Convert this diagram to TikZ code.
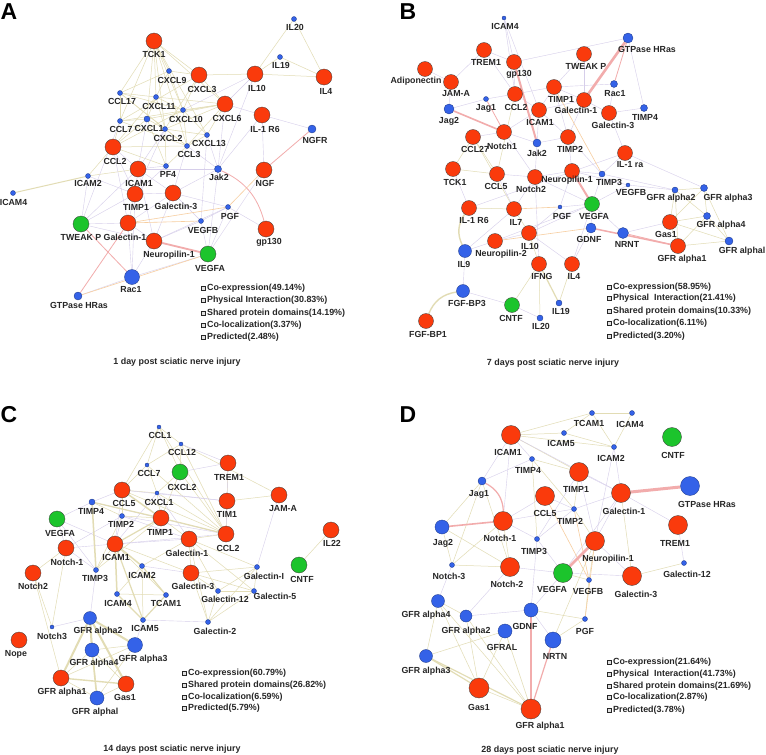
\documentclass[tikz,border=0pt]{standalone}
\usepackage{fontspec}
\setmainfont{Liberation Sans}
\usepackage{tikz}
\usetikzlibrary{backgrounds}

\definecolor{genred}{RGB}{250,58,12}
\definecolor{genblue}{RGB}{52,98,232}
\definecolor{gengreen}{RGB}{28,196,44}
\definecolor{coexpcol}{RGB}{214,206,234}
\definecolor{physcol}{RGB}{242,172,172}
\definecolor{domcol}{RGB}{226,220,180}
\definecolor{predcol}{RGB}{247,206,160}

\newcommand{\legsq}{{\setlength{\fboxsep}{0pt}\setlength{\fboxrule}{1.1pt}\fbox{\textcolor{black!12}{\rule{2.9pt}{2.9pt}}}}\hspace{0.8pt}}

\begin{document}
\begin{tikzpicture}[x=1pt, y=-1pt,
	gene/.style={circle, inner sep=0pt, draw=black!75, line width=0.35pt},
	redgene/.style={gene, fill=genred},
	bluegene/.style={gene, fill=genblue, draw=genblue!60!black},
	greengene/.style={gene, fill=gengreen},
	genelab/.style={font=\fontsize{8.8}{9}\selectfont\bfseries, text=black!85, inner sep=0pt},
	coexp/.style={coexpcol, line width=0.4pt},
	physint/.style={physcol, line width=0.8pt},
	shdom/.style={domcol, line width=0.5pt},
	predict/.style={predcol, line width=0.6pt},
	legitem/.style={font=\fontsize{8.9}{9}\selectfont\bfseries, text=black!85, anchor=west, inner sep=0pt},
	caption/.style={font=\fontsize{8.9}{9}\selectfont\bfseries, text=black!85, inner sep=0pt},
	panel/.style={font=\fontsize{23}{23}\selectfont\bfseries, inner sep=0pt}]
	
	\useasboundingbox (0,0) rectangle (766,755);
	
	% Panelbuchstaben
	\node[panel] (pA) at (9,12) {A};
	\node[panel] (pB) at (408,12) {B};
	\node[panel] (pC) at (9,415) {C};
	\node[panel] (pD) at (408,415) {D};
	
	% Knoten: Name/x/y/Typ/Groesse/Text/Text-x/Text-y
	\foreach \id/\x/\y/\k/\s/\t/\lx/\ly in {
		aTCK/154/41/redgene/16/TCK1/154/54,
		aIL20/294/19/bluegene/5/IL20/295/27,
		aIL19/280/57/bluegene/5/IL19/281/65,
		aIL10/255/74/redgene/16/IL10/257/88,
		aIL4/324/77/redgene/16/IL4/326/91,
		aCXCL9/169/71/bluegene/5/CXCL9/172/80,
		aCXCL3/199/75/redgene/16/CXCL3/202/89,
		aCCL17/120/93/bluegene/5/CCL17/122/101,
		aCXCL11/156/97/bluegene/5/CXCL11/159/106,
		aCXCL6/225/104/redgene/16/CXCL6/227/118,
		aIL1R6/262/115/redgene/16/IL-1 R6/265/129,
		aCXCL10/183/110/bluegene/5/CXCL10/186/119,
		aCCL7/120/121/bluegene/5/CCL7/121/129,
		aCXCL1/147/119/bluegene/6/CXCL1/149/128,
		aCXCL2/165/129/bluegene/5/CXCL2/168/138,
		aNGFR/312/129/bluegene/8/NGFR/315/140,
		aCXCL13/207/135/bluegene/5/CXCL13/209/143,
		aCCL2/113/147/redgene/16/CCL2/115/161,
		aCCL3/187/146/bluegene/5/CCL3/189/154,
		aICAM1/138/169/redgene/16/ICAM1/139/183,
		aPF4/166/166/bluegene/5/PF4/168/174,
		aJak2/218/169/bluegene/7/Jak2/219/177,
		aNGF/264/170/redgene/16/NGF/265/183,
		aICAM2/88/176/bluegene/5/ICAM2/88/183,
		aICAM4/13/193/bluegene/5/ICAM4/13.5/202,
		aTIMP1/135/194/redgene/16/TIMP1/136/207,
		aGal3/173/193/redgene/16/Galectin-3/176/206,
		aPGF/228/207/bluegene/5/PGF/230/216,
		aVEGFB/201/221/bluegene/5/VEGFB/203/230,
		aTWEAK/81/224/greengene/16/TWEAK P/81/237,
		aGal1/128/223/redgene/16/Galectin-1/125/237,
		aGp130/266/229/redgene/16/gp130/269/242,
		aNrp1/154/241/redgene/16/Neuropilin-1/169/255,
		aVEGFA/208/254/greengene/16/VEGFA/210/268,
		aRac1/132/277/bluegene/15/Rac1/131/290,
		aHRas/78/296/bluegene/8/GTPase HRas/79/305,
		bICAM4/504/18/bluegene/4/ICAM4/505/26,
		bHRas/628/38/bluegene/10/GTPase HRas/647/49,
		bTREM1/484/50/redgene/15/TREM1/486/62,
		bTWEAK/584/54/redgene/15/TWEAK P/586/66,
		bGp130/514/62/redgene/15/gp130/519/74,
		bAdipo/425/69/redgene/15/Adiponectin/416/81,
		bJAMA/451/82/redgene/15/JAM-A/456/94,
		bRac1/614/84/bluegene/7/Rac1/615/94,
		bTIMP1/554/87/redgene/15/TIMP1/561/99,
		bCCL2/515/94/redgene/15/CCL2/516/107,
		bJag1/486/99/bluegene/5/Jag1/486/108,
		bGal1/584/100/redgene/15/Galectin-1/576/110,
		bJag2/449/109/bluegene/10/Jag2/449/121,
		bICAM1/539/110/redgene/15/ICAM1/540/122,
		bGal3/609/113/redgene/15/Galectin-3/613/125,
		bTIMP4/644/108/bluegene/7/TIMP4/645/117,
		bNotch1/504/132/redgene/15/Notch1/502/146,
		bCCL27/473/137/redgene/15/CCL27/475/149,
		bJak2/537/143/bluegene/8/Jak2/537/153,
		bTIMP2/568/137/redgene/15/TIMP2/570/149,
		bIL1ra/625/153/redgene/15/IL-1 ra/630/165,
		bTCK1/453/169/redgene/15/TCK1/455/182,
		bCCL5/497/174/redgene/15/CCL5/496/186,
		bNotch2/535/177/redgene/15/Notch2/531/189,
		bNrp1/572/171/redgene/15/Neuropilin-1/567/180,
		bTIMP3/602/174/bluegene/6/TIMP3/609/182,
		bVEGFB/628/185/bluegene/4/VEGFB/631/192,
		bGFRa2/675/190/bluegene/6/GFR alpha2/671/198,
		bGFRa3/704/188/bluegene/7/GFR alpha3/728/198,
		bIL1R6/469/208/redgene/15/IL-1 R6/474/220,
		bIL7/514/209/redgene/15/IL7/516/222,
		bPGF/560/207/bluegene/4/PGF/562/216,
		bVEGFA/592/204/greengene/15/VEGFA/594/216,
		bGFRa4/707/216/bluegene/7/GFR alpha4/721/225,
		bGas1/670/222/redgene/15/Gas1/666/234,
		bGDNF/591/228/bluegene/10/GDNF/589/239,
		bNRNT/623/233/bluegene/11/NRNT/627/244,
		bIL10/529/233/redgene/15/IL10/530/246,
		bNrp2/495/241/redgene/15/Neuropilin-2/501/254,
		bIL9/465/251/bluegene/13/IL9/464/264,
		bGFRa1/678/246/redgene/15/GFR alpha1/682/259,
		bGFRal/729/241/bluegene/8/GFR alphal/742/251,
		bIFNG/539/264/redgene/15/IFNG/542/276,
		bIL4/572/264/redgene/15/IL4/574/276,
		bFGFBP3/463/291/bluegene/13/FGF-BP3/467/303,
		bCNTF/512/305/greengene/15/CNTF/511/318,
		bIL19/559/303/bluegene/6/IL19/561/311,
		bIL20/540/318/bluegene/6/IL20/541/326,
		bFGFBP1/426/321/redgene/15/FGF-BP1/428/334,
		cCCL1/159/427/bluegene/4/CCL1/160/435,
		cCCL12/181/444/bluegene/4/CCL12/182/452,
		cTREM1/228/463/redgene/16/TREM1/229/477,
		cCCL7/147/465/bluegene/4/CCL7/149/473,
		cCXCL2/180/472/greengene/16/CXCL2/182/487,
		cCCL5/122/490/redgene/16/CCL5/124/503,
		cCXCL1/157/493/bluegene/4/CXCL1/159/502,
		cTIM1/227/501/redgene/16/TIM1/227/514,
		cJAMA/279/495/redgene/16/JAM-A/283/509,
		cTIMP4/92/502/bluegene/6/TIMP4/91/511,
		cVEGFA/57/519/greengene/16/VEGFA/60/533,
		cTIMP2/122/516/bluegene/5/TIMP2/121/524,
		cTIMP1/161/518/redgene/16/TIMP1/160/532,
		cCCL2/226/534/redgene/16/CCL2/228/548,
		cIL22/331/530/redgene/16/IL22/332/543,
		cGal1/189/539/redgene/16/Galectin-1/187/553,
		cNotch1/66/548/redgene/16/Notch-1/67/562,
		cICAM1/115/544/redgene/16/ICAM1/116/557,
		cNotch2/33/573/redgene/16/Notch2/33/586,
		cTIMP3/96/570/bluegene/5/TIMP3/95/578,
		cICAM2/142/566/bluegene/5/ICAM2/142/575,
		cGal3/191/573/redgene/16/Galectin-3/193/586,
		cGalI/257/567/bluegene/5/Galectin-I/264/576,
		cCNTF/299/565/greengene/16/CNTF/302/579,
		cICAM4/117/594/bluegene/5/ICAM4/118/603,
		cTCAM1/166/595/bluegene/5/TCAM1/166/603,
		cGal12/218/591/bluegene/5/Galectin-12/225/599,
		cGal5/254/591/bluegene/5/Galectin-5/275/596,
		cGFRa2/90/618/bluegene/13/GFR alpha2/98/631,
		cICAM5/143/620/bluegene/5/ICAM5/145/628,
		cGal2/208/622/bluegene/5/Galectin-2/215/631,
		cNotch3/52/627/bluegene/4/Notch3/52/636,
		cNope/19/640/redgene/16/Nope/16/654,
		cGFRa4/92/650/bluegene/14/GFR alpha4/94/663,
		cGFRa3/135/645/bluegene/15/GFR alpha3/143/659,
		cGFRa1/61/678/redgene/16/GFR alpha1/62/692,
		cGas1/126/684/redgene/16/Gas1/125/697,
		cGFRal/97/698/bluegene/14/GFR alphal/95/712,
		dTCAM1/592/413/bluegene/5/TCAM1/589/423,
		dICAM4/632/413/bluegene/5/ICAM4/630/424,
		dICAM1/511/435/redgene/19/ICAM1/508/452,
		dICAM5/564/433/bluegene/5/ICAM5/561/443,
		dCNTF/672/437/greengene/19/CNTF/673/455,
		dICAM2/614/447/bluegene/5/ICAM2/611/458,
		dTIMP4/532/459/bluegene/5/TIMP4/528/470,
		dTIMP1/579/472/redgene/19/TIMP1/576/489,
		dJag1/482/481/bluegene/8/Jag1/479/494,
		dHRas/690/486/bluegene/19/GTPase HRas/707/504,
		dGal1/621/493/redgene/19/Galectin-1/624/511,
		dCCL5/545/496/redgene/19/CCL5/545/513,
		dTIMP2/574/509/bluegene/5/TIMP2/570/521,
		dJag2/442/527/bluegene/14/Jag2/443/543,
		dNotch1/503/521/redgene/19/Notch-1/500/538,
		dTREM1/678/525/redgene/19/TREM1/675/543,
		dTIMP3/537/539/bluegene/5/TIMP3/534/551,
		dNrp1/595/541/redgene/19/Neuropilin-1/608/559,
		dNotch3/452/565/bluegene/5/Notch-3/449/576,
		dNotch2/510/567/redgene/19/Notch-2/507/584,
		dVEGFA/563/573/greengene/19/VEGFA/552/589,
		dVEGFB/589/580/bluegene/5/VEGFB/588/591,
		dGal3/632/576/redgene/19/Galectin-3/636/594,
		dGal12/684/563/bluegene/5/Galectin-12/687/574,
		dGFRa4/438/601/bluegene/13/GFR alpha4/426/615,
		dGFRa2/466/616/bluegene/12/GFR alpha2/466/631,
		dGDNF/531/610/bluegene/14/GDNF/525/626,
		dPGF/585/619/bluegene/5/PGF/585/631,
		dGFRAL/505/631/bluegene/14/GFRAL/502/647,
		dNRTN/553/640/bluegene/16/NRTN/555/656,
		dGFRa3/426/656/bluegene/13/GFR alpha3/426/671,
		dGas1/479/688/redgene/20/Gas1/479/707,
		dGFRa1/531/709/redgene/20/GFR alpha1/540/726
	}{
		\node[\k, minimum size=\s pt] (\id) at (\x,\y) {};
		\node[genelab] (\id-t) at (\lx,\ly) {\t};
	}
	
	% Kanten (hinter den Knoten)
	\begin{scope}[on background layer]
		\fill[white] (0,0) rectangle (766,755);
		
		% Shared protein domains
		\foreach \u/\v in {aIL20/aIL10, aIL20/aIL4, aIL19/aIL10, aIL19/aIL4, aIL10/aIL4, aTCK/aCCL17, aTCK/aCXCL11, aTCK/aCXCL10, aTCK/aCXCL1, aTCK/aCXCL2, aTCK/aCCL7, aTCK/aCXCL3, aTCK/aCXCL9, aTCK/aCXCL6, aTCK/aCCL3, aTCK/aCXCL13, aCXCL9/aCXCL11, aCXCL9/aCXCL10, aCXCL9/aCXCL3, aCXCL9/aCCL17, aCXCL3/aCXCL6, aCXCL3/aCXCL10, aCXCL3/aCXCL2, aCXCL3/aCCL7, aCXCL3/aIL10, aCCL17/aCCL7, aCCL17/aCXCL11, aCCL17/aCXCL2, aCCL17/aCCL3, aCCL17/aCXCL10, aCXCL11/aCXCL10, aCXCL11/aCXCL1, aCXCL11/aCXCL2, aCXCL11/aCCL2, aCXCL11/aCXCL6, aCXCL10/aCXCL6, aCXCL10/aCXCL13, aCXCL10/aCCL3, aCXCL10/aCCL2, aCCL7/aCXCL1, aCCL7/aCCL2, aCCL7/aCCL3, aCCL7/aCXCL6, aCXCL1/aCXCL2, aCXCL1/aCCL2, aCXCL1/aCXCL6, aCXCL2/aCCL3, aCXCL2/aCXCL13, aCXCL2/aCXCL6, aCXCL2/aPF4, aCXCL6/aCXCL13, aCXCL6/aCCL3, aCXCL13/aCCL3, aCCL2/aCCL3, aCCL2/aPF4, aCCL3/aPF4, aCCL2/aICAM2, aICAM2/aICAM1, aPF4/aCXCL1,
			bGFRa2/bGFRa3, bGFRa2/bGas1, bGFRa2/bGFRa1, bGFRa2/bGFRa4, bGFRa3/bGFRa4, bGFRa3/bGFRal, bGFRa3/bGas1, bGFRa4/bGas1, bGFRa4/bGFRa1, bGFRa4/bGFRal, bGas1/bGFRa1, bGas1/bGFRal, bGFRa1/bGFRal, bIFNG/bIL20, bIL4/bIL19, bIFNG/bCNTF, bIL10/bIFNG, bIL7/bIL10, bCCL5/bCCL27, bCCL2/bCCL5, bTCK1/bCCL5, bTCK1/bCCL27, bCCL27/bIL7, bIL7/bIL1R6,
			cCCL1/cCCL12, cCCL1/cCCL7, cCCL1/cCXCL2, cCCL1/cCCL5, cCCL1/cCCL2, cCCL12/cCCL7, cCCL12/cCXCL2, cCCL12/cJAMA, cCCL12/cCCL2, cCCL7/cCCL5, cCCL7/cCXCL1, cCCL7/cCCL2, cCXCL2/cCCL2, cCXCL2/cCXCL1, cCXCL2/cTIMP1, cCCL5/cCCL2, cCCL5/cTIMP2, cCCL5/cCXCL1, cCXCL1/cCCL2, cCXCL1/cTIMP1, cTIMP4/cTIMP2, cTIMP2/cTIMP1, cTIMP2/cTIMP3, cTIMP1/cTIMP3, cTIMP1/cGal1, cTREM1/cTIM1, cTIM1/cJAMA, cTIM1/cCCL2, cIL22/cCNTF, cGal1/cGal3, cGal1/cGal12, cGal1/cGal5, cGal1/cGalI, cGal1/cGal2, cGal1/cCCL2, cGal3/cGal12, cGal3/cGal5, cGal3/cGal2, cGal3/cGalI, cGal12/cGal2, cGal5/cGal2, cGalI/cGal12, cGalI/cGal2, cGalI/cGal5, cGal12/cGal5, cICAM1/cTCAM1, cICAM2/cICAM4, cICAM2/cICAM5, cICAM4/cTCAM1, cICAM1/cGal3, cNotch1/cNotch2, cNotch1/cNotch3, cNotch2/cNotch3, cNotch2/cGFRa1, cGFRa2/cGFRal, cGFRa4/cGFRa3, cGFRa4/cGFRa1, cGFRa4/cGas1, cGFRa3/cGFRa1, cGFRa3/cGFRal, cGFRa1/cGFRal, cGas1/cGFRal, cTIMP3/cICAM1, cGal1/cICAM2,
			dTCAM1/dICAM4, dICAM1/dTCAM1, dICAM1/dICAM5, dICAM1/dICAM2, dICAM5/dICAM2, dTCAM1/dICAM2, dICAM4/dICAM2, dTCAM1/dICAM5, dICAM1/dTIMP1, dTIMP4/dTIMP1, dTIMP4/dTIMP2, dTIMP1/dTIMP2, dTIMP4/dTIMP3, dGFRa4/dGFRa2, dGFRa4/dGFRa3, dGFRa2/dGas1, dGFRa2/dGFRa1, dGFRAL/dGFRa1, dGFRAL/dGas1, dGFRa4/dGFRa1, dGas1/dGFRa1, dGFRa3/dGFRAL, dGFRa4/dGas1, dJag2/dNotch3, dJag2/dJag1, dJag2/dNotch2, dJag1/dNotch2, dJag1/dNotch3, dNotch1/dNotch2, dNotch1/dNotch3, dNotch3/dNotch2, dGal3/dGal12, dGal1/dGal3, dNrp1/dVEGFB, dVEGFA/dVEGFB, dVEGFB/dPGF, dGDNF/dPGF, dNRTN/dPGF, dNRTN/dNrp1, dTIMP2/dNrp1}
		\draw[shdom] (\u) -- (\v);
		
		% Co-expression
		\foreach \u/\v in {aIL1R6/aNGFR, aIL1R6/aNGF, aCCL2/aTIMP1, aCCL2/aGal1, aCCL2/aICAM1, aICAM1/aTIMP1, aICAM1/aGal3, aICAM1/aNrp1, aICAM1/aTWEAK, aICAM1/aJak2, aICAM2/aTWEAK, aICAM2/aTIMP1, aTWEAK/aTIMP1, aTWEAK/aGal1, aTWEAK/aNrp1, aTIMP1/aGal3, aTIMP1/aGal1, aTIMP1/aRac1, aGal3/aGal1, aGal3/aPGF, aGal3/aNrp1, aGal3/aVEGFB, aGal3/aJak2, aGal1/aNrp1, aGal1/aRac1, aNrp1/aRac1, aNrp1/aVEGFB, aNrp1/aPGF, aRac1/aVEGFA, aVEGFB/aVEGFA, aPGF/aVEGFA, aPGF/aVEGFB, aPGF/aGp130, aJak2/aVEGFA, aJak2/aCXCL13, aJak2/aCCL3, aJak2/aIL10, aIL10/aCXCL6, aIL10/aCXCL10, aNGF/aVEGFA, aCXCL1/aICAM1, aCXCL2/aICAM1, aCXCL2/aTIMP1, aCCL3/aGal3, aPF4/aICAM1, aPF4/aTIMP1, aCCL7/aTWEAK, aCXCL13/aVEGFB, aCXCL6/aJak2, aIL1R6/aJak2, aCXCL6/aIL1R6, aHRas/aRac1,
			bICAM4/bCCL2, bICAM4/bICAM1, bHRas/bGp130, bHRas/bTIMP4, bTREM1/bJAMA, bAdipo/bJAMA, bGp130/bCCL2, bTREM1/bCCL2, bJAMA/bJag2, bJag2/bJag1, bJag1/bCCL2, bCCL2/bICAM1, bCCL2/bTIMP1, bTIMP1/bGal1, bTIMP1/bICAM1, bTIMP1/bTIMP2, bGal1/bGal3, bGal1/bICAM1, bGal1/bTIMP2, bGal3/bTIMP4, bGal3/bIL1ra, bRac1/bTIMP1, bRac1/bGal3, bTWEAK/bTIMP1, bTWEAK/bGal1, bICAM1/bJak2, bICAM1/bNotch1, bICAM1/bTIMP2, bNotch1/bNotch2, bNotch1/bCCL27, bNotch1/bJak2, bJak2/bNotch2, bJak2/bTIMP2, bTIMP2/bNrp1, bTIMP2/bTIMP3, bIL1ra/bTIMP3, bIL1ra/bIL1R6, bIL1ra/bGFRa3, bNrp1/bTIMP3, bNrp1/bVEGFB, bNrp1/bPGF, bNrp1/bNotch2, bNotch2/bVEGFA, bNotch2/bIL7, bCCL5/bIL7, bCCL5/bNotch2, bTIMP3/bVEGFA, bVEGFB/bVEGFA, bPGF/bVEGFA, bVEGFA/bGDNF, bVEGFA/bNRNT, bVEGFA/bIL10, bVEGFA/bNrp2, bPGF/bIL10, bGDNF/bIL4, bNRNT/bGas1, bIL7/bIL9, bNrp2/bIL9, bNrp2/bIL10, bIL9/bFGFBP3, bIL10/bIL4, bIL4/bVEGFA, bCNTF/bIL20, bFGFBP3/bCNTF, bTCK1/bIL1R6, bNotch2/bIFNG, bVEGFB/bGFRa2, bTIMP3/bGFRa2, bTREM1/bGp130, bICAM4/bGp130,
			cVEGFA/cTIMP4, cVEGFA/cTIMP3, cVEGFA/cNotch1, cVEGFA/cICAM1, cNotch1/cTIMP3, cNotch1/cICAM1, cNotch1/cTIMP2, cTIMP2/cICAM1, cTIMP2/cCCL2, cCCL5/cICAM1, cCXCL1/cICAM1, cCXCL1/cGal1, cCCL5/cTIM1, cTIMP4/cCCL2, cICAM1/cGal1, cICAM1/cCCL2, cTIMP3/cGFRa2, cNotch3/cGFRa2, cICAM5/cGal2, cJAMA/cGalI, cTREM1/cCXCL2, cTREM1/cCCL2, cCCL12/cTREM1, cTIMP2/cGal1, cICAM2/cGal3, cGFRa3/cICAM5, cCCL5/cTIMP4, cCXCL1/cTIM1,
			dICAM1/dTIMP4, dICAM1/dJag1, dICAM1/dNotch1, dICAM1/dGal1, dICAM2/dGal1, dICAM2/dNrp1, dTIMP1/dGal1, dTIMP1/dTIMP3, dTIMP1/dNrp1, dTIMP2/dGal1, dTIMP2/dNotch1, dTIMP2/dTIMP3, dCCL5/dTIMP2, dCCL5/dNotch1, dNotch1/dTIMP3, dTIMP3/dVEGFA, dTIMP3/dGDNF, dNotch2/dVEGFA, dNotch2/dGFRa2, dNotch3/dGFRa4, dNrp1/dGal3, dGal1/dNrp1, dGal1/dVEGFA, dGal1/dTREM1, dTREM1/dGal12, dVEGFA/dGDNF, dVEGFA/dGal3, dGDNF/dGFRa2, dGDNF/dNRTN, dJag1/dTIMP4}
		\draw[coexp] (\u) -- (\v);
		
		% Predicted
		\foreach \u/\v in {aGal1/aPGF, aHRas/aVEGFA, aPGF/aNGF, aGal1/aVEGFB, bPGF/bIL7, bNrp2/bGDNF, bTIMP1/bTIMP3, dNrp1/dPGF, dCCL5/dVEGFB, dTIMP2/dVEGFB}
		\draw[predict] (\u) -- (\v);
		
		% Physical interaction
		\foreach \u/\v in {aNGFR/aNGF, aTWEAK/aRac1, aGal1/aHRas, bJag1/bNotch1, bHRas/bRac1, bNRNT/bGFRa1}
		\draw[physint] (\u) -- (\v);
		
		% dicke Kanten: von/nach/Breite/Stil
		\foreach \u/\v/\w/\st in {aNrp1/aVEGFA/1.8/physint, aICAM2/aICAM4/1/shdom, bHRas/bGal1/2.6/physint, bGp130/bJak2/2/physint, bJag2/bNotch1/1.6/physint, bNrp1/bVEGFA/2/physint, bGDNF/bGFRa1/1.5/physint, bIFNG/bIL19/1.2/shdom, cCCL5/cTIMP1/1.5/shdom, cTIMP4/cTIMP3/1.5/shdom, cTIMP4/cTIMP1/1.2/shdom, cTIMP1/cCCL2/1.2/shdom, cICAM1/cICAM2/1.5/shdom, cICAM1/cICAM4/1.5/shdom, cICAM1/cICAM5/1.2/shdom, cICAM2/cTCAM1/1.2/shdom, cICAM4/cICAM5/1.2/shdom, cTCAM1/cICAM5/1.2/shdom, cICAM1/cTIMP1/1.2/shdom, cGFRa2/cGFRa4/2/shdom, cGFRa2/cGFRa3/2/shdom, cGFRa2/cGFRa1/2/shdom, cGFRa2/cGas1/2/shdom, cGFRa4/cGFRal/1.6/shdom, cGFRa1/cGas1/1.4/shdom, dGal1/dHRas/3/physint, dJag2/dNotch1/1.6/physint, dNrp1/dVEGFA/2.6/physint, dGDNF/dGFRa1/1.6/physint, dNRTN/dGFRa1/1.2/physint, dGFRa3/dGas1/1.2/shdom, dGFRa3/dGFRa1/1.2/shdom}
		\draw[\st, line width=\w pt] (\u) -- (\v);
		
		% gebogene Kanten
		\draw[physint] (aJak2) to[bend left=25] (aGp130);
		\draw[physint, line width=1.2pt] (dJag1) to[bend left=30] (dNotch1);
		\draw[shdom, line width=1.4pt] (bIL1R6) to[bend right=30] (bIL9);
		\draw[shdom, line width=1.4pt] (bFGFBP3) to[bend right=30] (bFGFBP1);
	\end{scope}
	
	% Legenden
	\foreach \id/\x/\y/\t in {
		aleg1/201/288/Co-expression(49.14\%),
		aleg2/201/300/Physical Interaction(30.83\%),
		aleg3/201/313/Shared protein domains(14.19\%),
		aleg4/201/325/Co-localization(3.37\%),
		aleg5/201/337/Predicted(2.48\%),
		bleg1/607/287/Co-expression(58.95\%),
		bleg2/607/298/Physical\ \ Interaction(21.41\%),
		bleg3/607/311/Shared protein domains(10.33\%),
		bleg4/607/323/Co-localization(6.11\%),
		bleg5/607/336/Predicted(3.20\%),
		cleg1/182/673/Co-expression(60.79\%),
		cleg2/182/685/Shared protein domains(26.82\%),
		cleg3/182/697/Co-localization(6.59\%),
		cleg4/182/708/Predicted(5.79\%),
		dleg1/607/662/Co-expression(21.64\%),
		dleg2/607/674/Physical\ \ Interaction(41.73\%),
		dleg3/607/686/Shared protein domains(21.69\%),
		dleg4/607/697/Co-localization(2.87\%),
		dleg5/607/710/Predicted(3.78\%)
	}{
		\node[legitem] (\id) at (\x,\y) {\legsq\t};
	}
	
	% Unterschriften
	\node[caption] (acap) at (177,362) {1 day post sciatic nerve injury};
	\node[caption] (bcap) at (553,363) {7 days post sciatic nerve injury};
	\node[caption] (ccap) at (172,749) {14 days post sciatic nerve injury};
	\node[caption] (dcap) at (550,750) {28 days post sciatic nerve injury};
\end{tikzpicture}
\end{document}
